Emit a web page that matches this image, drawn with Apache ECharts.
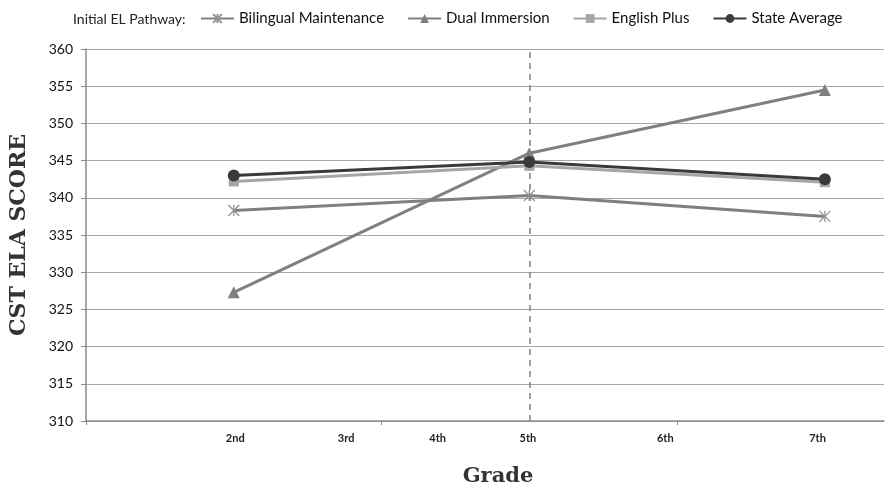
<!DOCTYPE html>
<html>
<head>
<meta charset="utf-8">
<script src="https://cdn.jsdelivr.net/npm/echarts@6/dist/echarts.min.js"></script>
<style>
html,body{margin:0;padding:0;background:#fff;}
#chart{width:886px;height:492px;}
</style>
</head>
<body>
<div id="chart"></div>
<script>
// x positions of the measured grades (on the chart's horizontal scale)
const gradeX = [5, 15, 25];
// grade tick labels and their positions along the horizontal scale
const gradeLabels = ['2nd', '3rd', '4th', '5th', '6th', '7th'];
const gradeLabelPos = [5.05, 8.8, 11.9, 14.95, 19.6, 24.75];
const dividerX = 15;

const seriesNames = ['Bilingual Maintenance', 'Dual Immersion', 'English Plus', 'State Average'];
const bilingualMaintenance = [338.3, 340.3, 337.5];
const dualImmersion = [327.3, 346.0, 354.5];
const englishPlus = [342.2, 344.3, 342.1];
const stateAverage = [343.0, 344.8, 342.5];

const yTicks = {min: 310, max: 360, step: 5};

const pair = (xs, ys) => xs.map((x, i) => [x, ys[i]]);

const chart = echarts.init(document.getElementById('chart'));
const labelFont = 'Lato, "Open Sans", sans-serif';
const slab = '"DejaVu Serif", serif';

const styles = [
  {color: '#7f7f7f', symbol: 'path://M0,0 L10,10 M10,0 L0,10 M5,0 L5,10', size: 11, mcol: '#939393'},
  {color: '#808080', symbol: 'triangle', size: 12, mcol: '#808080'},
  {color: '#a6a6a6', symbol: 'rect', size: 10, mcol: '#a6a6a6'},
  {color: '#3a3a3a', symbol: 'circle', size: 12, mcol: '#3a3a3a'}
];
const dataSets = [bilingualMaintenance, dualImmersion, englishPlus, stateAverage];

const series = dataSets.map((d, i) => {
  const s = styles[i];
  const o = {
    name: seriesNames[i],
    type: 'line',
    data: pair(gradeX, d),
    symbol: s.symbol,
    symbolSize: s.size,
    showAllSymbol: true,
    lineStyle: {color: s.color, width: 3},
    itemStyle: i === 0
      ? {color: s.mcol, borderColor: s.mcol, borderWidth: 1.3}
      : {color: s.mcol, borderWidth: 0},
    emphasis: {disabled: true},
    animation: false,
    z: 2 + i
  };
  if (i === 0) {
    o.markLine = {
      silent: true,
      symbol: 'none',
      label: {show: false},
      lineStyle: {color: '#808080', type: [6, 5], width: 1.5},
      data: [{xAxis: dividerX}],
      animation: false
    };
  }
  return o;
});

chart.setOption({
  backgroundColor: '#ffffff',
  animation: false,
  title: {
    text: 'Initial EL Pathway:',
    left: 68, top: 7,
    textStyle: {fontFamily: labelFont, fontSize: 14, fontWeight: 'normal', color: '#222'}
  },
  legend: {
    left: 195, top: 6,
    itemWidth: 33, itemHeight: 11, itemGap: 23,
    textStyle: {fontFamily: labelFont, fontSize: 15, color: '#111'},
    data: seriesNames
  },
  grid: {left: 85, right: 2, top: 49, bottom: 66},
  xAxis: {
    type: 'value',
    min: 0, max: 27, interval: 10,
    name: 'Grade',
    nameLocation: 'middle',
    nameGap: 45,
    nameTextStyle: {fontFamily: slab, fontWeight: 'bold', fontSize: 21, color: '#333', padding: [0, 0, 0, 26]},
    axisLine: {show: true, lineStyle: {color: '#8c8c8c', width: 1.5}},
    axisTick: {show: true, length: 4, lineStyle: {color: '#8c8c8c'}, customValues: [0, 10, 20]},
    axisLabel: {
      customValues: gradeLabelPos,
      formatter: v => {
        let best = 0;
        gradeLabelPos.forEach((p, i) => { if (Math.abs(p - v) < Math.abs(gradeLabelPos[best] - v)) best = i; });
        return gradeLabels[best];
      },
      margin: 12,
      fontFamily: labelFont, fontSize: 11, fontWeight: 'bold', color: '#222'
    },
    splitLine: {show: false}
  },
  yAxis: {
    type: 'value',
    min: yTicks.min, max: yTicks.max, interval: yTicks.step,
    name: 'CST ELA SCORE',
    nameLocation: 'middle',
    nameGap: 56,
    nameTextStyle: {fontFamily: slab, fontWeight: 'bold', fontSize: 22, color: '#333'},
    axisLine: {show: true, lineStyle: {color: '#8c8c8c', width: 1.5}},
    axisTick: {show: true, length: 5, lineStyle: {color: '#8c8c8c'}},
    axisLabel: {margin: 13, fontFamily: labelFont, fontSize: 14, color: '#111'},
    splitLine: {show: true, lineStyle: {color: '#a6a6a6', width: 1}}
  },
  series: series
});
</script>
</body>
</html>
